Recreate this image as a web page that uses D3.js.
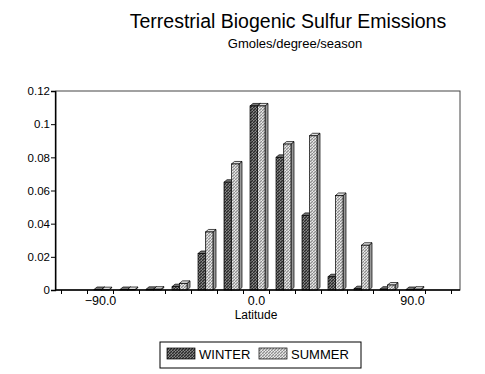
<!DOCTYPE html>
<html>
<head>
<meta charset="utf-8">
<script src="https://cdn.jsdelivr.net/npm/d3@7"></script>
<style>
  body { margin: 0; background: #fff; }
  svg { font-family: "Liberation Sans", Arial, sans-serif; }
</style>
</head>
<body>
<div id="chart"></div>
<script>
// Latitude bins (degrees) and emissions per season
const latitudes = [-90, -75, -60, -45, -30, -15, 0, 15, 30, 45, 60, 75, 90];
const winter = [0.0003, 0.0003, 0.0004, 0.002, 0.022, 0.065, 0.111, 0.080, 0.045, 0.008, 0.0008, 0.0005, 0.0003];
const summer = [0.0002, 0.0003, 0.0005, 0.004, 0.035, 0.076, 0.111, 0.088, 0.093, 0.057, 0.027, 0.003, 0.0005];
const yTicks = [0, 0.02, 0.04, 0.06, 0.08, 0.1, 0.12];
const xLabels = [-90, 0, 90];
const binEdges = d3.range(-112.5, 113, 15);
const seriesNames = ['WINTER', 'SUMMER'];

const width = 485, height = 374;
const plot = { left: 56, right: 460, top: 91, bottom: 290 };

const svg = d3.select('#chart').append('svg')
  .attr('width', width)
  .attr('height', height);

// dithered fills
const defs = svg.append('defs');
function stipple(id, base, dark, light) {
  const p = defs.append('pattern')
    .attr('id', id)
    .attr('width', 3).attr('height', 3)
    .attr('patternUnits', 'userSpaceOnUse');
  p.append('rect').attr('width', 3).attr('height', 3).attr('fill', base);
  [[0, 0], [2, 1], [1, 2]].forEach(([x, y]) =>
    p.append('rect').attr('x', x).attr('y', y).attr('width', 1).attr('height', 1).attr('fill', dark));
  [[1, 0], [0, 2]].forEach(([x, y]) =>
    p.append('rect').attr('x', x).attr('y', y).attr('width', 1).attr('height', 1).attr('fill', light));
}
stipple('winterFill', '#5a5a5a', '#2a2a2a', '#8a8a8a');
stipple('summerFill', '#c4c4c4', '#8e8e8e', '#ececec');

// scales
const x = d3.scaleLinear().domain([-112.5, 112.5]).range([61, 451]);
const y = d3.scaleLinear().domain([0, 0.12]).range([plot.bottom, plot.top]);

// title
svg.append('text')
  .attr('x', 288).attr('y', 28)
  .attr('text-anchor', 'middle')
  .style('font-size', '19.5px')
  .text('Terrestrial Biogenic Sulfur Emissions');

svg.append('text')
  .attr('x', 295).attr('y', 48)
  .attr('text-anchor', 'middle')
  .style('font-size', '13px')
  .text('Gmoles/degree/season');

// frame
svg.append('rect')
  .attr('x', plot.left).attr('y', plot.top)
  .attr('width', plot.right - plot.left)
  .attr('height', plot.bottom - plot.top)
  .attr('fill', 'none')
  .attr('stroke', '#444')
  .attr('stroke-width', 1);

// bars (front face + 3D side and top)
const depthX = 3, depthY = 2.5, barW = 7.5;
const bars = [];
latitudes.forEach((lat, i) => {
  bars.push({ lat: lat, v: winter[i], x0: x(lat) - 6, fill: 'url(#winterFill)', side: '#333', top: '#777' });
  bars.push({ lat: lat, v: summer[i], x0: x(lat) - 6 + barW, fill: 'url(#summerFill)', side: '#999', top: '#ddd' });
});

const barG = svg.append('g').attr('class', 'bars');
bars.forEach(b => {
  const yt = y(b.v), yb = y(0);
  const g = barG.append('g');
  // side face
  g.append('path')
    .attr('d', `M${b.x0 + barW},${yb} L${b.x0 + barW + depthX},${yb - depthY} L${b.x0 + barW + depthX},${yt - depthY} L${b.x0 + barW},${yt} Z`)
    .attr('fill', b.side).attr('stroke', '#000').attr('stroke-width', 0.7);
  // top face
  g.append('path')
    .attr('d', `M${b.x0},${yt} L${b.x0 + depthX},${yt - depthY} L${b.x0 + barW + depthX},${yt - depthY} L${b.x0 + barW},${yt} Z`)
    .attr('fill', b.top).attr('stroke', '#000').attr('stroke-width', 0.7);
  // front face
  g.append('rect')
    .attr('x', b.x0).attr('y', yt)
    .attr('width', barW).attr('height', yb - yt)
    .attr('fill', b.fill).attr('stroke', '#000').attr('stroke-width', 0.7);
});

// y axis
const yAxis = svg.append('g')
  .attr('transform', `translate(${plot.left - 1},0)`)
  .call(d3.axisLeft(y).tickValues(yTicks).tickSize(4).tickPadding(1).tickFormat(d => String(d)));
yAxis.selectAll('text').style('font-size', '11.5px').attr('fill', '#000');
yAxis.select('.domain').attr('stroke', '#000').attr('stroke-width', 1.3);

// x axis: ticks at bin edges, labels at bin centres
const xAxis = svg.append('g')
  .attr('transform', `translate(0,${plot.bottom})`)
  .call(d3.axisBottom(x).tickValues(binEdges).tickSize(4).tickFormat(''));
xAxis.select('.domain').remove();
svg.append('line')
  .attr('x1', plot.left - 1).attr('x2', plot.right)
  .attr('y1', plot.bottom).attr('y2', plot.bottom)
  .attr('stroke', '#000').attr('stroke-width', 1.6);

const xLab = svg.append('g')
  .attr('transform', `translate(0,${plot.bottom})`)
  .call(d3.axisBottom(x).tickValues(xLabels).tickSize(0).tickPadding(6).tickFormat(d3.format('.1f')));
xLab.select('.domain').remove();
xLab.selectAll('text').style('font-size', '12.5px').attr('fill', '#000');

svg.append('text')
  .attr('x', 256).attr('y', 319)
  .attr('text-anchor', 'middle')
  .style('font-size', '12px')
  .text('Latitude');

// legend
const legend = svg.append('g').attr('class', 'legend');
legend.append('rect')
  .attr('x', 160).attr('y', 342)
  .attr('width', 201).attr('height', 26)
  .attr('fill', '#fff').attr('stroke', '#000').attr('stroke-width', 1);

const legendX = [167, 259];
const legendFill = ['url(#winterFill)', 'url(#summerFill)'];
seriesNames.forEach((name, i) => {
  legend.append('rect')
    .attr('x', legendX[i]).attr('y', 348)
    .attr('width', 28).attr('height', 11)
    .attr('fill', legendFill[i])
    .attr('stroke', '#000').attr('stroke-width', 0.7);
  legend.append('text')
    .attr('x', legendX[i] + 32).attr('y', 359)
    .style('font-size', '13px')
    .text(name);
});
</script>
</body>
</html>
